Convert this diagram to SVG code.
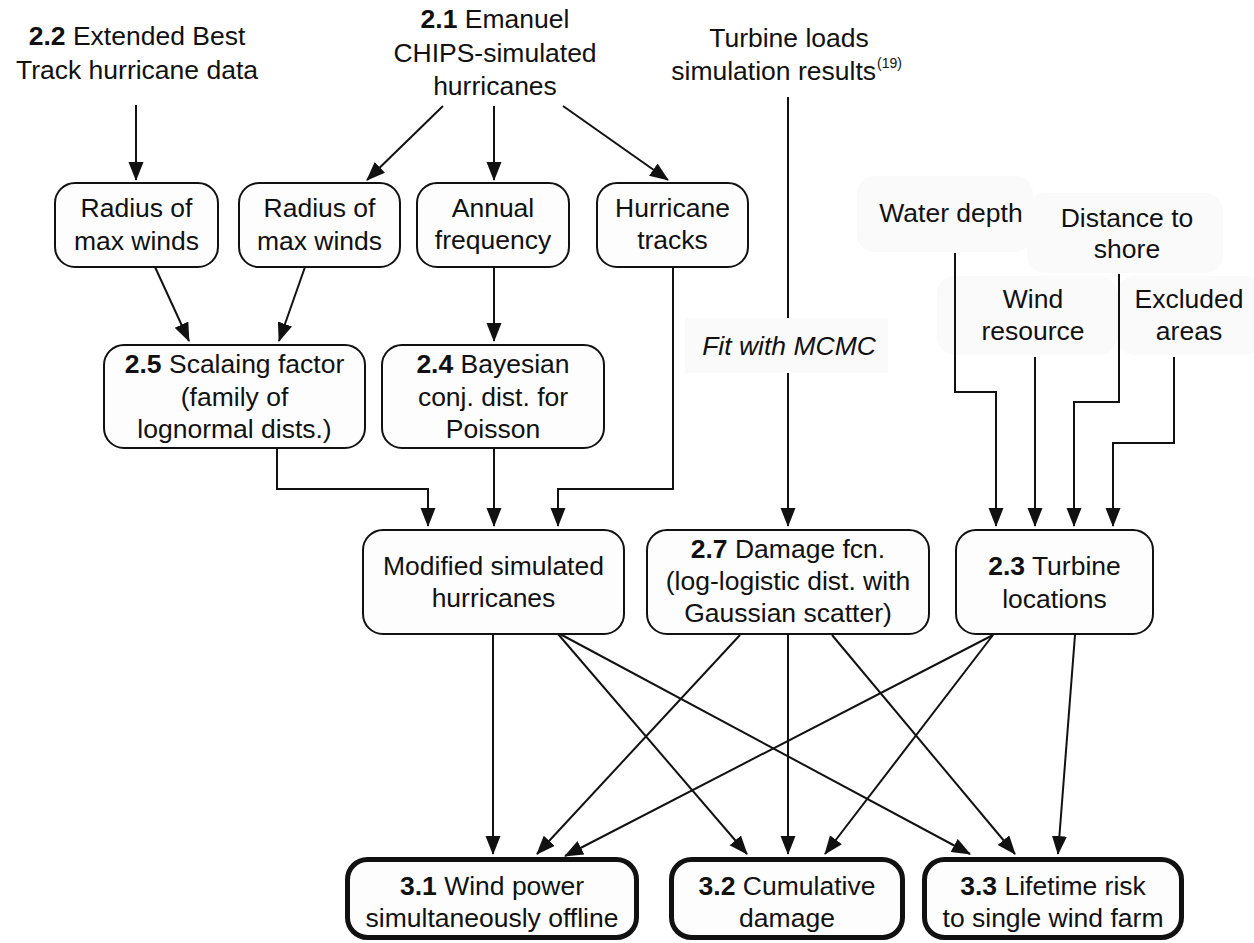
<svg xmlns="http://www.w3.org/2000/svg" width="1254" height="943" viewBox="0 0 1254 943">
<defs>
<marker id="ah" markerUnits="userSpaceOnUse" markerWidth="20" markerHeight="16" refX="18" refY="7.5" orient="auto">
<path d="M0,0 L19,7.5 L0,15 z" fill="#111"/>
</marker>
<style>
text{font-family:"Liberation Sans",Arial,Helvetica,sans-serif;font-size:26.5px;fill:#111;text-anchor:middle}
.b{font-weight:bold}
.box{fill:#fdfdfd;stroke:#111;stroke-width:2}
.out{fill:#fdfdfd;stroke:#111;stroke-width:5}
.bg{fill:#fafafa;stroke:none}
.c{fill:none;stroke:#111;stroke-width:2}
.c.a{marker-end:url(#ah)}
</style>
</defs>
<rect width="1254" height="943" fill="#fff"/>

<g id="n22"><text x="137" y="45"><tspan class="b">2.2</tspan> Extended Best</text><text x="137" y="79">Track hurricane data</text></g>
<g id="n21"><text x="495" y="28"><tspan class="b">2.1</tspan> Emanuel</text><text x="495" y="62">CHIPS-simulated</text><text x="495" y="95">hurricanes</text></g>
<g id="loads"><text x="789" y="47">Turbine loads</text><text x="876" y="80" style="text-anchor:end">simulation results</text><text x="877" y="68" style="text-anchor:start;font-size:14px">(19)</text></g>

<g id="rmw1"><rect class="box" x="55" y="183" width="163" height="84" rx="20"/><text x="136.5" y="217">Radius of</text><text x="136.5" y="250">max winds</text></g>
<g id="rmw2"><rect class="box" x="239" y="183" width="161" height="84" rx="20"/><text x="319.5" y="217">Radius of</text><text x="319.5" y="250">max winds</text></g>
<g id="freq"><rect class="box" x="417" y="183" width="152" height="84" rx="20"/><text x="493" y="217">Annual</text><text x="493" y="249">frequency</text></g>
<g id="tracks"><rect class="box" x="597" y="183" width="151" height="84" rx="20"/><text x="672.5" y="217">Hurricane</text><text x="672.5" y="249">tracks</text></g>

<g id="water"><rect class="bg" x="857" y="176" width="176" height="76" rx="18"/><text x="951" y="222">Water depth</text></g>
<g id="dist"><rect class="bg" x="1027" y="193" width="196" height="80" rx="18"/><text x="1127" y="227">Distance to</text><text x="1127" y="258">shore</text></g>
<g id="wind"><rect class="bg" x="937" y="276" width="180" height="79" rx="18"/><text x="1033" y="308">Wind</text><text x="1033" y="340">resource</text></g>
<g id="excl"><rect class="bg" x="1117" y="276" width="145" height="79" rx="18"/><text x="1189" y="308">Excluded</text><text x="1189" y="340">areas</text></g>

<g id="mcmc"><rect class="bg" x="685" y="318" width="203" height="55"/><text x="789" y="355" font-style="italic">Fit with MCMC</text></g>

<g id="n25"><rect class="box" x="104" y="345" width="261" height="103" rx="20"/><text x="234.5" y="373"><tspan class="b">2.5</tspan> Scalaing factor</text><text x="234.5" y="406">(family of</text><text x="234.5" y="438">lognormal dists.)</text></g>
<g id="n24"><rect class="box" x="382" y="345" width="222" height="103" rx="20"/><text x="493" y="373"><tspan class="b">2.4</tspan> Bayesian</text><text x="493" y="406">conj. dist. for</text><text x="493" y="438">Poisson</text></g>

<g id="mod"><rect class="box" x="363" y="530" width="261" height="104" rx="20"/><text x="493.5" y="575">Modified simulated</text><text x="493.5" y="607">hurricanes</text></g>
<g id="n27"><rect class="box" x="647" y="530" width="282" height="104" rx="20"/><text x="788" y="558"><tspan class="b">2.7</tspan> Damage fcn.</text><text x="788" y="590">(log-logistic dist. with</text><text x="788" y="622">Gaussian scatter)</text></g>
<g id="n23"><rect class="box" x="956" y="530" width="197" height="104" rx="20"/><text x="1054.5" y="575"><tspan class="b">2.3</tspan> Turbine</text><text x="1054.5" y="608">locations</text></g>

<g id="n31"><rect class="out" x="347.5" y="859.5" width="289" height="78" rx="20"/><text x="492" y="895"><tspan class="b">3.1</tspan> Wind power</text><text x="492" y="927">simultaneously offline</text></g>
<g id="n32"><rect class="out" x="671.5" y="859.5" width="231" height="78" rx="20"/><text x="787" y="895"><tspan class="b">3.2</tspan> Cumulative</text><text x="787" y="927">damage</text></g>
<g id="n33"><rect class="out" x="924.5" y="859.5" width="257" height="78" rx="20"/><text x="1053" y="895"><tspan class="b">3.3</tspan> Lifetime risk</text><text x="1053" y="927">to single wind farm</text></g>

<g id="connectors">
<line class="c a" x1="136" y1="105" x2="136" y2="180"/>
<line class="c a" x1="443" y1="106" x2="367" y2="180"/>
<line class="c a" x1="494" y1="106" x2="494" y2="180"/>
<line class="c a" x1="563" y1="106" x2="668" y2="180"/>
<line class="c a" x1="155" y1="267" x2="189" y2="341"/>
<line class="c a" x1="305" y1="267" x2="279" y2="341"/>
<line class="c a" x1="494" y1="267" x2="494" y2="341"/>
<polyline class="c a" points="277,448 277,489 428,489 428,526"/>
<line class="c a" x1="494" y1="448" x2="494" y2="526"/>
<polyline class="c a" points="673,267 673,489 558,489 558,526"/>
<line class="c" x1="788" y1="97" x2="788" y2="318"/>
<line class="c a" x1="788" y1="373" x2="788" y2="526"/>
<polyline class="c a" points="955,253 955,392 996,392 996,526"/>
<line class="c a" x1="1035" y1="357" x2="1035" y2="526"/>
<polyline class="c a" points="1119,274 1119,402 1074,402 1074,526"/>
<polyline class="c a" points="1174,357 1174,443 1113,443 1113,526"/>
<line class="c a" x1="493" y1="634" x2="493" y2="854"/>
<line class="c a" x1="558" y1="634" x2="747" y2="854"/>
<line class="c a" x1="560" y1="634" x2="970" y2="854"/>
<line class="c a" x1="740" y1="635" x2="537" y2="854"/>
<line class="c a" x1="788" y1="635" x2="788" y2="854"/>
<line class="c a" x1="832" y1="635" x2="1015" y2="854"/>
<line class="c a" x1="993" y1="635" x2="565" y2="856"/>
<line class="c a" x1="993" y1="635" x2="825" y2="854"/>
<line class="c a" x1="1075" y1="635" x2="1058" y2="854"/>
</g>
</svg>
